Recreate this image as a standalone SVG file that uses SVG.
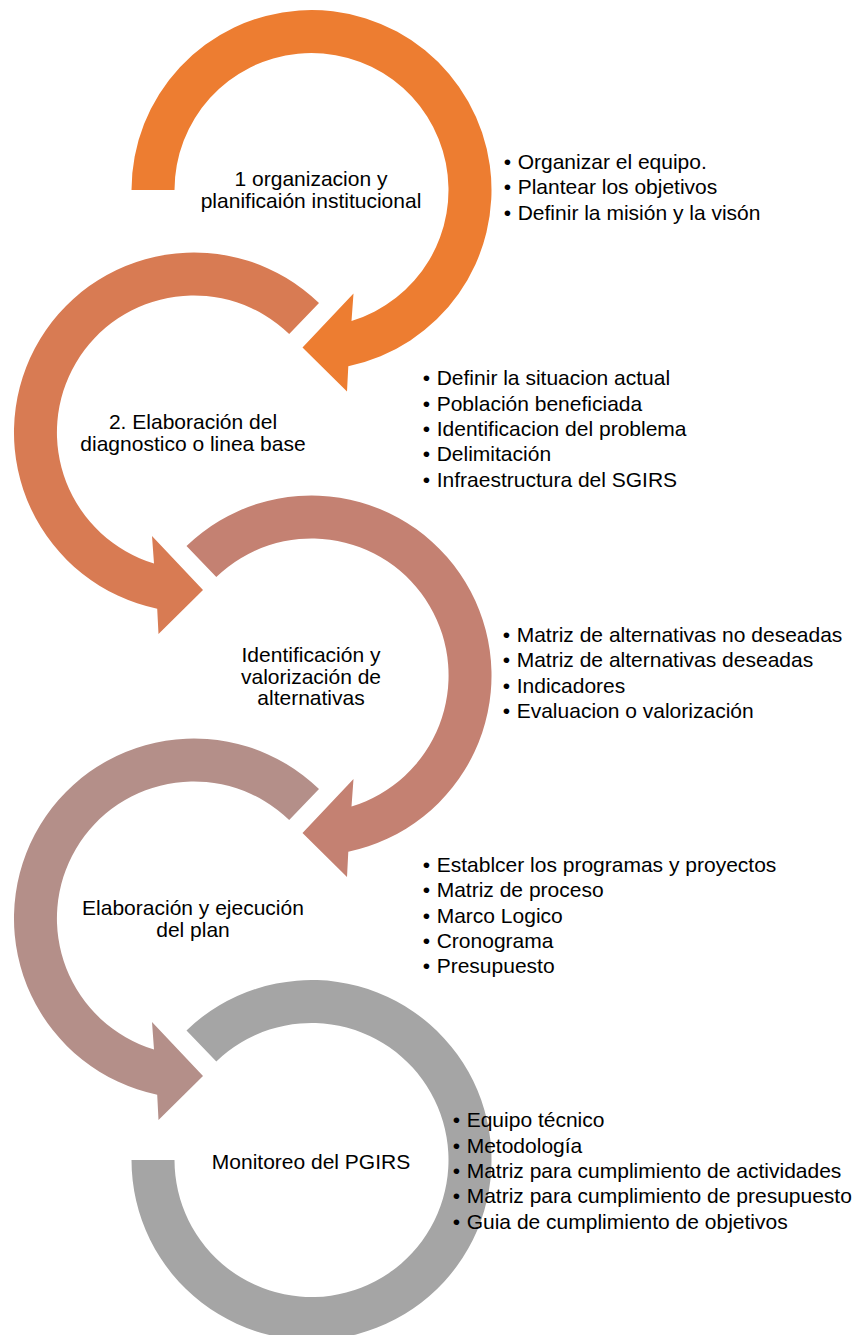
<svg xmlns="http://www.w3.org/2000/svg" width="856" height="1335" viewBox="0 0 856 1335">
  <style>
    .lbl { font-family: "Liberation Sans", Arial, sans-serif; font-size: 21px; fill: #000; text-anchor: middle; }
    .itm { font-family: "Liberation Sans", Arial, sans-serif; font-size: 21px; fill: #000; }
  </style>
  <defs>
    <!-- ring arrow: starts upper-left (226deg), runs clockwise, arrowhead at the bottom -->
    <path id="ringArrow" d="M-125,-129.5 A180,180 0 1 1 36.8,176.2 L35.5,201.5 L-9,157.5 L42,103.5 L40,131 A137,137 0 1 0 -95.2,-98.5 Z"/>
    <!-- first ring: starts at the left (180deg) -->
    <path id="ringArrowFirst" d="M-180,0 A180,180 0 1 1 36.8,176.2 L35.5,201.5 L-9,157.5 L42,103.5 L40,131 A137,137 0 1 0 -137,0 Z"/>
    <!-- closing ring: no arrowhead, gap on the upper-left -->
    <path id="ringClosed" d="M-125,-129.5 A180,180 0 1 1 -180,0 L-137,0 A137,137 0 1 0 -95.2,-98.5 Z"/>
  </defs>

  <rect width="856" height="1335" fill="#fff"/>

  <g id="connectors"></g>

  <g id="step1">
    <use href="#ringArrowFirst" transform="translate(311.5,190)" fill="#ED7D31"/>
    <text class="lbl" x="311" y="186">1 organizacion y</text>
    <text class="lbl" x="311" y="207.5">planificaión institucional</text>
    <g class="itm">
      <text class="itm" x="503.7" y="168.5">•</text><text class="itm" x="517.7" y="168.5">Organizar el equipo.</text>
      <text class="itm" x="503.7" y="194">•</text><text class="itm" x="517.7" y="194">Plantear los objetivos</text>
      <text class="itm" x="503.7" y="219.5">•</text><text class="itm" x="517.7" y="219.5">Definir la misión y la visón</text>
    </g>
  </g>

  <g id="step2">
    <use href="#ringArrow" transform="translate(194,432.5) scale(-1,1)" fill="#D87B53"/>
    <text class="lbl" x="193" y="428.5">2. Elaboración del</text>
    <text class="lbl" x="193" y="451">diagnostico o linea base</text>
    <text class="itm" x="422.7" y="385">•</text><text class="itm" x="436.7" y="385">Definir la situacion actual</text>
    <text class="itm" x="422.7" y="410.5">•</text><text class="itm" x="436.7" y="410.5">Población beneficiada</text>
    <text class="itm" x="422.7" y="436">•</text><text class="itm" x="436.7" y="436">Identificacion del problema</text>
    <text class="itm" x="422.7" y="461">•</text><text class="itm" x="436.7" y="461">Delimitación</text>
    <text class="itm" x="422.7" y="486.5">•</text><text class="itm" x="436.7" y="486.5">Infraestructura del SGIRS</text>
  </g>

  <g id="step3">
    <use href="#ringArrow" transform="translate(311.5,675.5)" fill="#C48172"/>
    <text class="lbl" x="311" y="662">Identificación y</text>
    <text class="lbl" x="311" y="683.5">valorización de</text>
    <text class="lbl" x="311" y="705">alternativas</text>
    <text class="itm" x="502.7" y="641.5">•</text><text class="itm" x="516.7" y="641.5">Matriz de alternativas no deseadas</text>
    <text class="itm" x="502.7" y="667">•</text><text class="itm" x="516.7" y="667">Matriz de alternativas deseadas</text>
    <text class="itm" x="502.7" y="692.5">•</text><text class="itm" x="516.7" y="692.5">Indicadores</text>
    <text class="itm" x="502.7" y="718">•</text><text class="itm" x="516.7" y="718">Evaluacion o valorización</text>
  </g>

  <g id="step4">
    <use href="#ringArrow" transform="translate(194,918.5) scale(-1,1)" fill="#B48F89"/>
    <text class="lbl" x="193" y="915">Elaboración y ejecución</text>
    <text class="lbl" x="193" y="937">del plan</text>
    <text class="itm" x="422.7" y="871.5">•</text><text class="itm" x="436.7" y="871.5">Establcer los programas y proyectos</text>
    <text class="itm" x="422.7" y="897">•</text><text class="itm" x="436.7" y="897">Matriz de proceso</text>
    <text class="itm" x="422.7" y="922.5">•</text><text class="itm" x="436.7" y="922.5">Marco Logico</text>
    <text class="itm" x="422.7" y="948">•</text><text class="itm" x="436.7" y="948">Cronograma</text>
    <text class="itm" x="422.7" y="973">•</text><text class="itm" x="436.7" y="973">Presupuesto</text>
  </g>

  <g id="step5">
    <use href="#ringClosed" transform="translate(311.5,1160)" fill="#A5A5A5"/>
    <text class="lbl" x="311" y="1169">Monitoreo del PGIRS</text>
    <text class="itm" x="452.7" y="1127">•</text><text class="itm" x="466.7" y="1127">Equipo técnico</text>
    <text class="itm" x="452.7" y="1152.5">•</text><text class="itm" x="466.7" y="1152.5">Metodología</text>
    <text class="itm" x="452.7" y="1178">•</text><text class="itm" x="466.7" y="1178">Matriz para cumplimiento de actividades</text>
    <text class="itm" x="452.7" y="1203">•</text><text class="itm" x="466.7" y="1203">Matriz para cumplimiento de presupuesto</text>
    <text class="itm" x="452.7" y="1228.5">•</text><text class="itm" x="466.7" y="1228.5">Guia de cumplimiento de objetivos</text>
  </g>
</svg>
